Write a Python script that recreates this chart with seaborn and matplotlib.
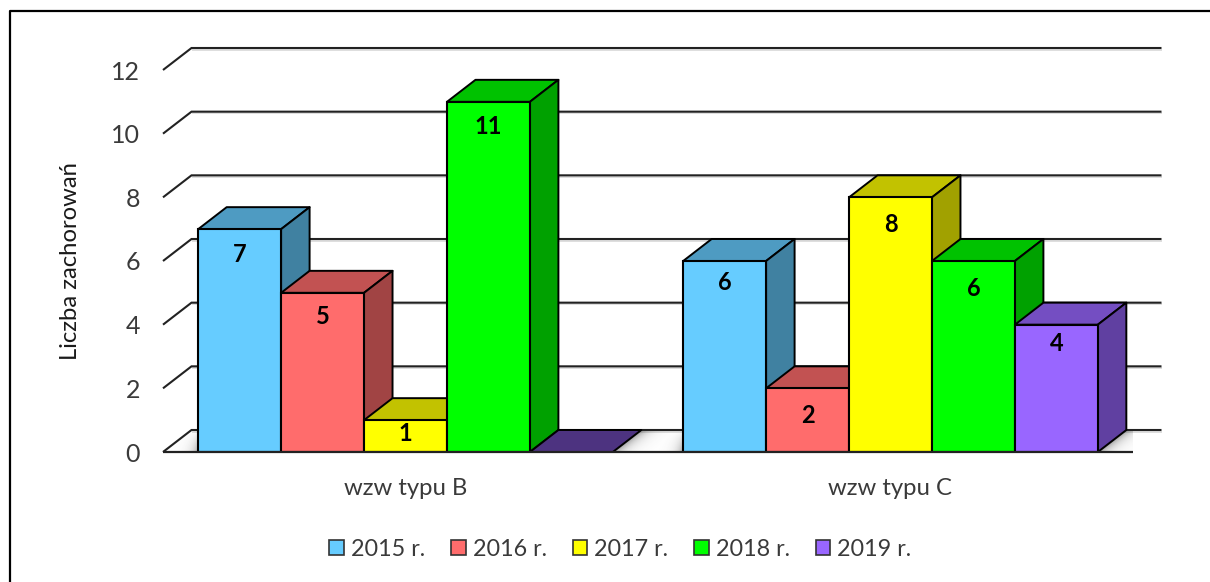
import numpy as np
import pandas as pd
import matplotlib
matplotlib.use("Agg")
import matplotlib.pyplot as plt
import seaborn as sns
from matplotlib.patches import Polygon, Patch
from matplotlib.lines import Line2D
from matplotlib.transforms import IdentityTransform

categories = ["wzw typu B", "wzw typu C"]
years = ["2015 r.", "2016 r.", "2017 r.", "2018 r.", "2019 r."]
values_2015 = [7, 6]
values_2016 = [5, 2]
values_2017 = [1, 8]
values_2018 = [11, 6]
values_2019 = [0, 4]
series = [values_2015, values_2016, values_2017, values_2018, values_2019]
colors = ["#66CCFF", "#FF6C6C", "#FFFF00", "#00FF00", "#9966FF"]
y_ticks = [0, 2, 4, 6, 8, 10, 12]
# pixel drop of each value label beneath its bar top, per year and category
label_drops = [[25, 22], [24, 27], [13, 27], [25, 28], [0, 19]]

W, H = 1210, 582
DX, DY = 28.5, 22.0          # depth of the fake 3D, in pixels

sns.set_theme(style="white")
plt.rcParams["font.family"] = ["Lato", "DejaVu Sans"]

df = pd.DataFrame({
    "category": np.repeat(categories, len(years)),
    "year": years * len(categories),
    "value": [s[i] for i in range(len(categories)) for s in series],
})

fig = plt.figure(figsize=(W / 100, H / 100), dpi=100)
ax = fig.add_axes([163 / W, 1 - 452 / H, 970 / W, 382 / H])
sns.barplot(data=df, x="category", y="value", hue="year", hue_order=years,
            order=categories, palette=colors, width=0.855, gap=0, legend=False,
            saturation=1, edgecolor="black", linewidth=1.5, ax=ax, zorder=10)
bars = sorted(ax.patches, key=lambda p: p.get_x())
ax.set_xlim(-0.5, 1.5)
ax.set_ylim(0, 12)
sns.despine(ax=ax, left=True, bottom=True)
ax.patch.set_alpha(0)
ax.set_yticks(y_ticks)
TXT = "#3a3a3a"
ax.tick_params(axis="y", length=0, pad=16.5, labelsize=18, labelcolor=TXT)
ax.tick_params(axis="x", length=0, pad=18.5, labelsize=17.2, labelcolor=TXT)
ax.set_xlabel("")
ax.set_ylabel("Liczba zachorowań", fontsize=17.2, color="#1a1a1a", va="center")
ax.yaxis.set_label_coords((70 - 163) / 970, (452 - 261) / 382)

fig.canvas.draw()
to_px = ax.transData.transform
PX = IdentityTransform()
GRID = "#222222"


def line_px(xs, ys, z, lw=1.5, col=GRID):
    ax.add_line(Line2D(xs, ys, transform=PX, color=col, lw=lw, zorder=z,
                       solid_capstyle="butt", solid_joinstyle="miter", clip_on=False))


# walls and grid
x0 = to_px((-0.5, 0))[0]
x1 = to_px((1.5, 0))[0]
y_floor = to_px((0, 0))[1]
for v in y_ticks:
    y = to_px((0, v))[1]
    line_px([x0 + DX, x1 + DX], [y + DY - 1.6, y + DY - 1.6], 2, lw=1.2, col="#d8d8d8")
    line_px([x0, x0 + DX, x1 + DX], [y, y + DY, y + DY], 3)
line_px([x0, x1], [y_floor, y_floor], 40, lw=1.6)

# soft shadow on the floor at the foot of the bar groups
gx, gy = np.meshgrid(np.arange(x0, x1 + DX, 1.0), np.arange(y_floor, y_floor + DY, 1.0))
skew = gx - (gy - y_floor) * DX / DY
n = len(years)
shade = np.zeros_like(gx)
for k in range(len(categories)):
    left = to_px((bars[k * n].get_x(), 0))[0]
    right = to_px((bars[k * n + n - 1].get_x() + bars[k * n + n - 1].get_width(), 0))[0]
    d_left = left - gx
    d_right = skew - right
    depth = 1 - (gy - y_floor) / DY
    shade = np.maximum(shade, np.where(d_left >= 0, 0.5 * np.exp(-d_left / 6) * depth, 0))
    shade = np.maximum(shade, np.where(d_right >= 0, 0.55 * np.exp(-d_right / 9), 0))
rgba = np.zeros(gx.shape + (4,))
rgba[..., :3] = 0.25
rgba[..., 3] = shade
floor_img = ax.imshow(rgba, origin="lower", aspect="auto", zorder=2, transform=PX,
                      extent=(x0, x1 + DX, y_floor, y_floor + DY), interpolation="bilinear")
floor_poly = Polygon([(x0, y_floor), (x0 + DX, y_floor + DY), (x1 + DX, y_floor + DY), (x1, y_floor)],
                     closed=True, transform=PX, fc="none", ec="none")
ax.add_patch(floor_poly)
floor_img.set_clip_path(floor_poly)
ax.set_xlim(-0.5, 1.5)
ax.set_ylim(0, 12)

# 3D faces + fronts, left to right so nearer neighbours overlap
for i, bar in enumerate(bars):
    z = 10 + 2 * i
    base = np.array(bar.get_facecolor()[:3])
    (xa, ya) = to_px((bar.get_x(), 0))
    (xb, yb) = to_px((bar.get_x() + bar.get_width(), bar.get_height()))
    zero = bar.get_height() == 0
    top_col = base * (0.5 if zero else 0.76)
    ax.add_patch(Polygon([(xa, yb), (xa + DX, yb + DY), (xb + DX, yb + DY), (xb, yb)],
                         closed=True, transform=PX, fc=top_col, ec="black", lw=1.4, zorder=z,
                         joinstyle="round"))
    if not zero:
        ax.add_patch(Polygon([(xb, ya), (xb + DX, ya + DY), (xb + DX, yb + DY), (xb, yb)],
                             closed=True, transform=PX, fc=base * 0.63, ec="black", lw=1.4, zorder=z,
                             joinstyle="round"))
    bar.set_zorder(z + 1)
    if zero:
        bar.set_visible(False)

# value labels
for j, (vals, drops) in enumerate(zip(series, label_drops)):
    for k, (val, drop) in enumerate(zip(vals, drops)):
        if val == 0:
            continue
        bar = bars[k * n + j]
        ax.annotate(str(val), (bar.get_x() + bar.get_width() / 2, val), xytext=(0, -drop * 0.72),
                    textcoords="offset points", ha="center", va="center",
                    fontsize=17, fontweight="bold", color="black", zorder=60)

handles = [Patch(fc=c, ec="#333333", lw=1.2) for c in colors]
ax.legend(handles, years, ncol=5, frameon=False, loc="center", fontsize=16.8,
          bbox_to_anchor=((620.5 - 163) / 970, (452 - 549) / 382),
          handlelength=0.62, handleheight=0.62, handletextpad=0.3, columnspacing=1.12,
          labelcolor=TXT)

# outer picture frame running off the canvas
fig.add_artist(Line2D([10 / W, 10 / W, 1], [0, 1 - 11 / H, 1 - 11 / H], color="black", lw=1.6))

fig.savefig("out.png", dpi=100)
